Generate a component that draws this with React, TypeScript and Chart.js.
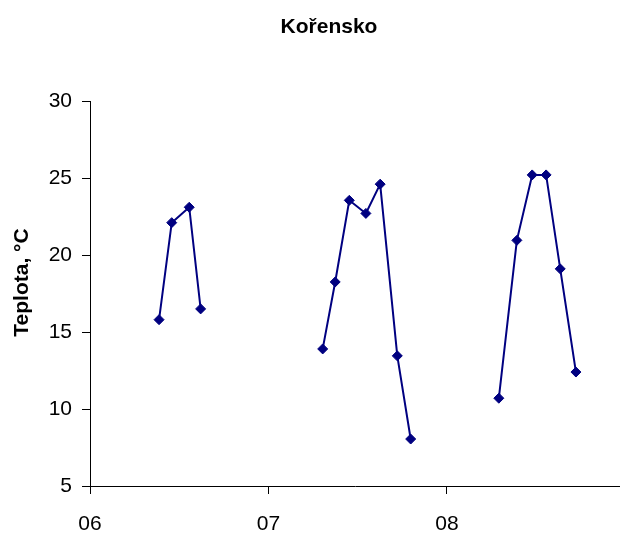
import React, { useEffect, useRef } from "react";
import { Chart, registerables } from "chart.js";

Chart.register(...registerables);

const TITLE = "Kořensko";
const Y_TITLE = "Teplota, °C";
const X_TICKS = [6, 7, 8];
const X_TICK_LABELS = ["06", "07", "08"];
const Y_MIN = 5;
const Y_MAX = 30;
const Y_STEP = 5;
// x = month as a decimal (6 = start of June), null temperature = gap between measurement periods
const MONTHS = [
  6.387, 6.458, 6.556, 6.62, 6.95,
  7.304, 7.374, 7.453, 7.546, 7.626, 7.722, 7.797, 8.0,
  8.291, 8.392, 8.478, 8.556, 8.635, 8.723,
];
const TEMPS: (number | null)[] = [
  15.8, 22.1, 23.1, 16.5, null,
  13.9, 18.25, 23.55, 22.7, 24.6, 13.45, 8.05, null,
  10.7, 20.95, 25.2, 25.2, 19.1, 12.4,
];

const FONT = '"Liberation Sans", Arial, sans-serif';
const NAVY = "#000080";

const textPlugin = {
  id: "textLabels",
  afterDraw(chart: any) {
    const ctx = chart.ctx;
    ctx.save();
    ctx.fillStyle = "#000";
    ctx.font = `bold 21px ${FONT}`;
    ctx.textAlign = "center";
    ctx.textBaseline = "alphabetic";
    ctx.fillText(TITLE, 329, 33);
    ctx.translate(28, 282.5);
    ctx.rotate(-Math.PI / 2);
    ctx.font = `bold 21px ${FONT}`;
    ctx.fillText(Y_TITLE, 0, 0);
    ctx.restore();
  },
};

export default function App() {
  const ref = useRef<HTMLCanvasElement | null>(null);

  useEffect(() => {
    if (!ref.current) return;
    const data = MONTHS.map((m, i) => ({ x: m, y: TEMPS[i] }));
    const chart = new Chart(ref.current, {
      type: "line",
      data: {
        datasets: [
          {
            label: "Kořensko",
            data: data as any,
            borderColor: NAVY,
            backgroundColor: NAVY,
            borderWidth: 2,
            pointStyle: "rectRot",
            pointRadius: 5,
            pointBackgroundColor: NAVY,
            pointBorderColor: NAVY,
            pointBorderWidth: 1,
            spanGaps: false,
            tension: 0,
            clip: false as any,
          },
        ],
      },
      options: {
        animation: false,
        responsive: false,
        maintainAspectRatio: false,
        layout: { autoPadding: false, padding: { top: 101, right: 0, bottom: 0, left: 0 } },
        plugins: {
          legend: { display: false },
          title: { display: false },
          tooltip: { enabled: false },
        },
        scales: {
          x: {
            type: "linear",
            min: 6,
            max: 8.97,
            afterBuildTicks: (s: any) => {
              s.ticks = X_TICKS.map((v) => ({ value: v }));
            },
            afterFit: (s: any) => {
              s.height = 48;
              s.paddingLeft = 0;
              s.paddingRight = 0;
            },
            ticks: {
              autoSkip: false,
              maxRotation: 0,
              padding: 18,
              color: "#000",
              font: { family: FONT, size: 21 },
              callback: (v: any) => {
                const i = X_TICKS.indexOf(Number(v));
                return i >= 0 ? X_TICK_LABELS[i] : "";
              },
            },
            grid: {
              display: true,
              drawOnChartArea: false,
              drawTicks: true,
              tickLength: 8,
              color: "#000",
            },
            border: { display: true, color: "#000", width: 1 },
          },
          y: {
            type: "linear",
            min: Y_MIN,
            max: Y_MAX,
            afterFit: (s: any) => {
              s.width = 90;
              s.paddingTop = 0;
              s.paddingBottom = 0;
            },
            ticks: {
              stepSize: Y_STEP,
              padding: 10,
              color: "#000",
              font: { family: FONT, size: 21 },
            },
            grid: {
              display: true,
              drawOnChartArea: false,
              drawTicks: true,
              tickLength: 8,
              color: "#000",
            },
            border: { display: true, color: "#000", width: 1 },
          },
        },
      },
      plugins: [textPlugin],
    });
    return () => chart.destroy();
  }, []);

  return (
    <div
      style={{
        position: "fixed",
        left: 0,
        top: 0,
        width: 620,
        height: 534,
        background: "#fff",
      }}
    >
      <canvas ref={ref} width={620} height={534} />
    </div>
  );
}
